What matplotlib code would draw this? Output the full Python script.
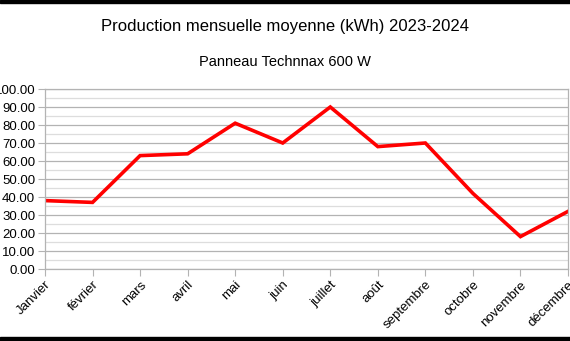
import matplotlib
matplotlib.use("Agg")
import matplotlib.pyplot as plt
from matplotlib.patches import Rectangle
from matplotlib.ticker import MultipleLocator, FormatStrFormatter

plt.rcParams['font.family'] = ['Liberation Sans', 'DejaVu Sans']

mois = ["Janvier", "février", "mars", "avril", "mai", "juin", "juillet",
        "août", "septembre", "octobre", "novembre", "décembre"]
production = [38, 37, 63, 64, 81, 70, 90, 68, 70, 42, 18, 32]

W, H = 570, 341
fig = plt.figure(figsize=(W / 100, H / 100), dpi=100)
ax = fig.add_axes([45 / W, 1 - 269 / H, (568 - 45) / W, 180 / H])

gris = "#b3b3b3"
ax.plot(range(len(mois)), production, color="#ff0000", lw=2.6, solid_joinstyle="miter")

ax.set_xlim(0, len(mois) - 1)
ax.set_ylim(0, 100)
ax.yaxis.set_major_locator(MultipleLocator(10))
ax.yaxis.set_minor_locator(MultipleLocator(5))
ax.yaxis.set_major_formatter(FormatStrFormatter("%.2f"))
ax.grid(axis="y", which="major", color=gris, lw=0.9)
ax.grid(axis="y", which="minor", color="#dddddd", lw=0.9)
ax.set_axisbelow(True)

ax.set_xticks(range(len(mois)))
ax.set_xticklabels(mois, rotation=45, ha="right", rotation_mode="anchor")
ax.tick_params(axis="both", which="major", length=5, color=gris, labelsize=9.5,
               labelcolor="black", pad=2)
ax.tick_params(axis="y", which="minor", length=0)
for s in ax.spines.values():
    s.set_color(gris)
    s.set_linewidth(0.9)

fig.text(0.5, 1 - 27 / H, "Production mensuelle moyenne (kWh) 2023-2024",
         ha="center", va="center", fontsize=12)
fig.text(0.5, 1 - 62 / H, "Panneau Technnax 600 W",
         ha="center", va="center", fontsize=10.5)

# bandes noires haut et bas
fig.patches.append(Rectangle((0, 1 - 3 / H), 1, 3 / H, transform=fig.transFigure,
                             color="black", zorder=10))
fig.patches.append(Rectangle((0, 0), 1, 4 / H, transform=fig.transFigure,
                             color="black", zorder=10))

fig.savefig("out.png", dpi=100)
